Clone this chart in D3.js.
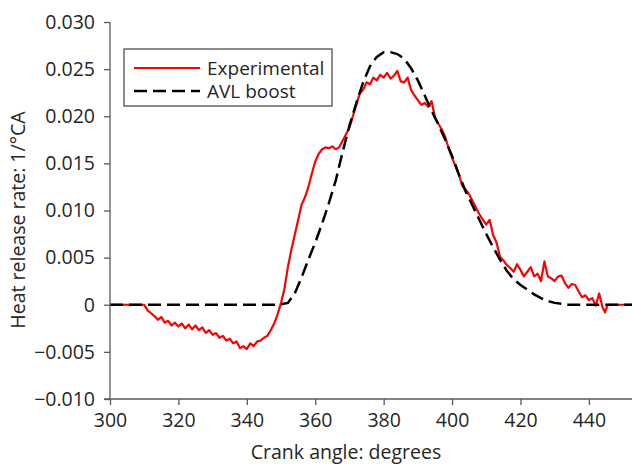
<!DOCTYPE html>
<html><head><meta charset="utf-8">
<script src="https://cdn.jsdelivr.net/npm/d3@7"></script>
<style>body{margin:0;background:#fff}svg{display:block}text{font-family:"Open Sans",sans-serif;fill:#262626}</style>
</head><body><svg id="c" width="633" height="465"></svg>
<script>
const xTicks=[300,320,340,360,380,400,420,440];
const yTicks=[-0.010,-0.005,0,0.005,0.010,0.015,0.020,0.025,0.030];
const yTickLabels=["\u22120.010","\u22120.005","0","0.005","0.010","0.015","0.020","0.025","0.030"];
const seriesNames=["Experimental","AVL boost"];
const expAngle=[300,310,310.5,311,312,313,314,315,316,317,318,319,320,321,322,323,324,325,326,327,328,329,330,331,332,333,334,335,336,337,338,339,340,341,342,343,344,345,346,347,348,349,350,351,352,353,354,355,356,357,358,359,360,361,362,363,364,365,366,367,368,369,370,371,372,373,374,375,376,377,378,379,380,381,382,383,384,385,386,387,388,389,390,391,392,393,394,395,396,397,398,399,400,401,402,403,404,405,406,407,408,409,410,411,412,413,414,415,416,417,418,419,420,421,422,423,424,425,426,427,428,429,430,431,432,433,434,435,436,437,438,439,440,441,442,443,444,444.7,445.5,452.6];
const expValue=[0,0,-0.0003,-0.0006,-0.0009,-0.0012,-0.0016,-0.0013,-0.0019,-0.0017,-0.0022,-0.0019,-0.0023,-0.0020,-0.0025,-0.0021,-0.0026,-0.0022,-0.0027,-0.0024,-0.0030,-0.0027,-0.0032,-0.0030,-0.0035,-0.0033,-0.0038,-0.0036,-0.0041,-0.0039,-0.0046,-0.0044,-0.0047,-0.0041,-0.0044,-0.0039,-0.0038,-0.0035,-0.0033,-0.0027,-0.0020,-0.0010,0.0002,0.0017,0.0040,0.0058,0.0074,0.0090,0.0106,0.0114,0.0125,0.0139,0.0152,0.0160,0.0165,0.0167,0.0166,0.0168,0.0165,0.0167,0.0174,0.0181,0.0188,0.0200,0.0212,0.0224,0.0228,0.0236,0.0234,0.0241,0.0238,0.0244,0.0241,0.0246,0.0240,0.0243,0.0248,0.0237,0.0236,0.0241,0.0228,0.0222,0.0217,0.0212,0.0214,0.0210,0.0216,0.0199,0.0192,0.0186,0.0178,0.0166,0.0156,0.0147,0.0138,0.0126,0.0122,0.0117,0.0110,0.0103,0.0096,0.0090,0.0085,0.0090,0.0074,0.0066,0.0051,0.0047,0.0042,0.0039,0.0035,0.0043,0.0037,0.0030,0.0035,0.0040,0.0030,0.0033,0.0025,0.0046,0.0030,0.0028,0.0025,0.0030,0.0031,0.0023,0.0018,0.0022,0.0021,0.0014,0.0008,0.0010,0.0005,0.0007,-0.0001,0.0012,-0.0003,-0.0008,0,0];
const avlAngle=[300,348,350,352,354,356,358,360,362,364,366,368,370,372,374,376,378,380,382,384,386,388,390,392,394,396,398,400,402,404,406,408,410,412,414,416,418,420,422,424,426,428,430,432,434,452.6];
const avlValue=[0,0,0.00005,0.0002,0.0012,0.0029,0.0048,0.0066,0.0086,0.0108,0.0132,0.0162,0.0190,0.0214,0.0236,0.0253,0.0263,0.0268,0.0268,0.0266,0.0261,0.0251,0.0238,0.0222,0.0206,0.0191,0.0175,0.0158,0.0138,0.0120,0.0105,0.0090,0.0075,0.0061,0.0048,0.0036,0.0027,0.0021,0.0016,0.0011,0.0007,0.0004,0.0002,0.0001,0,0];

const svg=d3.select("#c");
const x=d3.scaleLinear().domain([300,452.6]).range([110,632]);
const y=d3.scaleLinear().domain([-0.010,0.030]).range([399,22]);
const axisColor="#595959";

const line=d3.line().x(d=>x(d[0])).y(d=>y(d[1]));
const expData=expAngle.map((a,i)=>[a,expValue[i]]);
const avlData=avlAngle.map((a,i)=>[a,avlValue[i]]);

svg.append("path").datum(expData).attr("d",line).attr("fill","none").attr("stroke","#ff0000").attr("stroke-width",2.2).attr("stroke-linejoin","round");
svg.append("path").datum(avlData).attr("d",line).attr("fill","none").attr("stroke","#000").attr("stroke-width",2.5).attr("stroke-dasharray","13,6");

const xa=svg.append("g").attr("transform","translate(0,399)").call(d3.axisBottom(x).tickValues(xTicks).tickSize(6).tickPadding(8).tickFormat(d3.format("d")));
const ya=svg.append("g").attr("transform","translate(110,0)").call(d3.axisLeft(y).tickValues(yTicks).tickSize(6).tickPadding(9).tickFormat((d,i)=>yTickLabels[i]));
[xa,ya].forEach(g=>{g.select(".domain").attr("stroke",axisColor).attr("stroke-width",1.3);g.selectAll(".tick line").attr("stroke",axisColor).attr("stroke-width",1.3);g.selectAll(".tick text").attr("font-size",19.5).attr("font-family","Open Sans").attr("fill","#262626");});
ya.select(".domain").attr("d","M0,22V399");
xa.select(".domain").attr("d","M104,0H632");

svg.append("text").attr("x",346).attr("y",459).attr("text-anchor","middle").attr("font-size",19.5).text("Crank angle: degrees");
svg.append("text").attr("transform","translate(25,220) rotate(-90)").attr("text-anchor","middle").attr("font-size",19.5).text("Heat release rate: 1/\u00b0CA");

const lg=svg.append("g");
lg.append("rect").attr("x",124).attr("y",49).attr("width",208).attr("height",57).attr("fill","#fff").attr("stroke","#404040").attr("stroke-width",1.2);
lg.append("line").attr("x1",134).attr("x2",200).attr("y1",68).attr("y2",68).attr("stroke","#ff0000").attr("stroke-width",2.2);
lg.append("line").attr("x1",134).attr("x2",200).attr("y1",91).attr("y2",91).attr("stroke","#000").attr("stroke-width",2.5).attr("stroke-dasharray","13,6");
lg.append("text").attr("x",207).attr("y",75).attr("font-size",19).text(seriesNames[0]);
lg.append("text").attr("x",207).attr("y",98).attr("font-size",19).text(seriesNames[1]);
</script></body></html>
